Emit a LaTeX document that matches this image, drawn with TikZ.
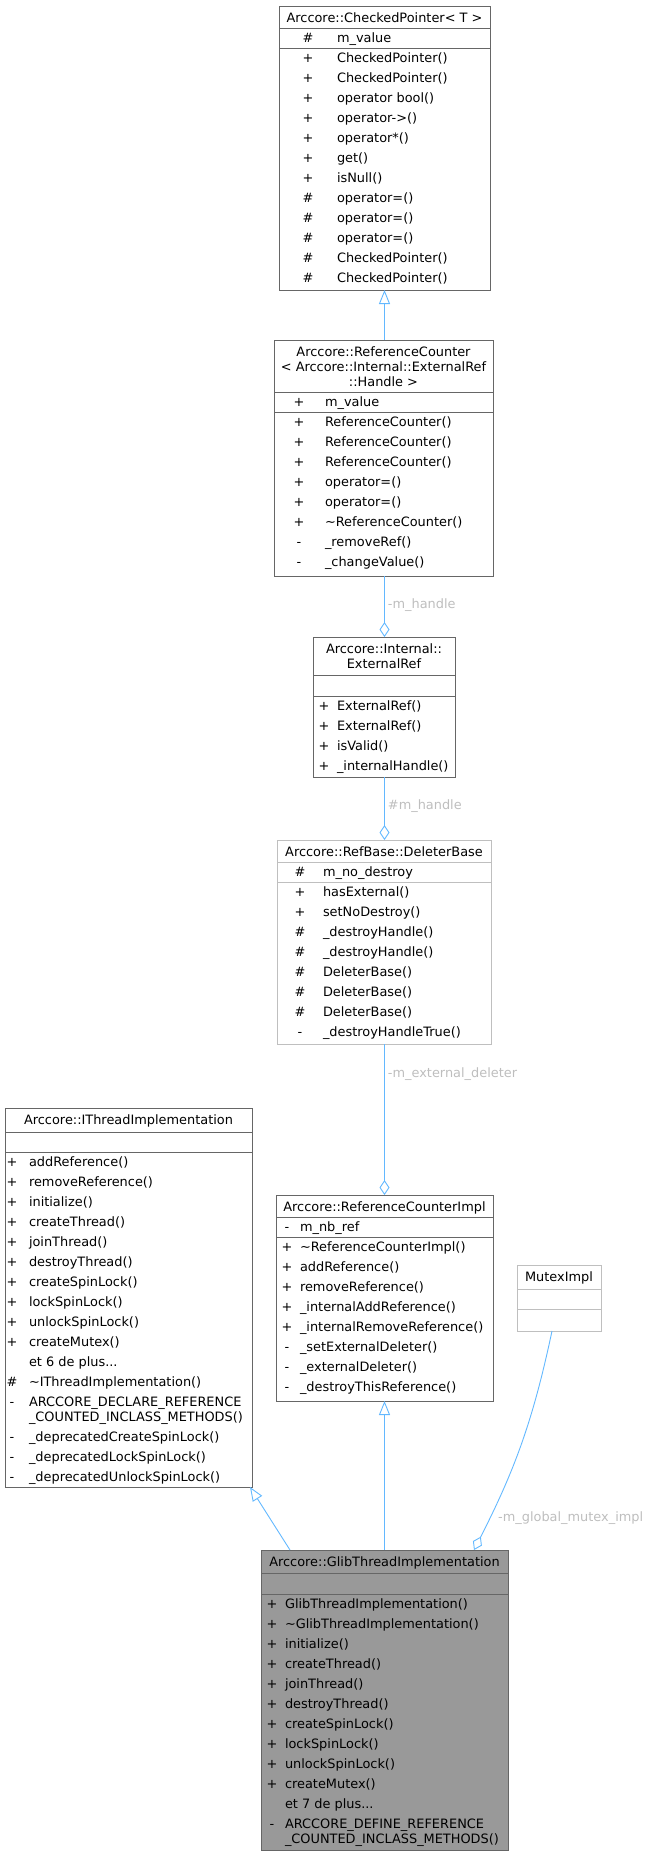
\documentclass[tikz,border=0pt]{standalone}
\usepackage{fontspec}
\setmainfont{DejaVu Sans}
\usepackage{array}
\usepackage{tikz}
\usetikzlibrary{arrows.meta, positioning, calc}

\definecolor{edgeblue}{HTML}{63B8FF}
\definecolor{boxgray}{HTML}{666666}
\definecolor{lightgray}{HTML}{BFBFBF}
\definecolor{labelgray}{HTML}{BEBEBE}
\definecolor{glibgray}{HTML}{999999}

\newcommand{\memberfont}{\fontsize{12.9}{20}\selectfont}
\newcommand{\titlefont}{\fontsize{12.9}{15}\selectfont}
\newcommand{\memberrows}[2]{\begin{tabular}{@{}w{c}{12pt}@{\hspace{#1}}l@{}}#2\end{tabular}}
\newcommand{\titlerows}[1]{\begin{tabular}{@{}c@{}}#1\end{tabular}}

\begin{document}
\begin{tikzpicture}[x=1pt, y=-1pt,
        classbox/.style={draw=boxgray, line width=0.9pt, fill=white, inner sep=0pt, outer sep=0pt, anchor=north west},
        lightbox/.style={classbox, draw=lightgray},
        divider/.style={line width=0.9pt},
        classtitle/.style={anchor=north, inner sep=0pt, outer sep=0pt, font=\titlefont},
        memberlist/.style={anchor=north west, inner sep=0pt, outer sep=0pt, font=\memberfont},
        inherit/.style={-{Triangle[open, length=14pt, width=11pt]}, draw=edgeblue, line width=0.9pt},
        aggr/.style={{Diamond[open, length=15pt, width=10pt]}-, draw=edgeblue, line width=0.9pt},
        rolelabel/.style={anchor=west, inner sep=0pt, xshift=3pt, text=labelgray, font=\titlefont}
    ]
        \useasboundingbox (0,0) rectangle (654,1856);

        % CheckedPointer
        \node[classbox, minimum width=211pt, minimum height=284pt] (cp) at (279,6) {};
        \draw[boxgray, divider] (279,28) -- (490,28) (279,48) -- (490,48);
        \node[classtitle] (cp-title) at (384.5,12) {\titlerows{Arccore::CheckedPointer< T >}};
        \node[memberlist] (cp-attr) at (302,28) {\memberrows{23pt}{\# & m\_value}};
        \node[memberlist] (cp-ops) at (302,48) {\memberrows{23pt}{%
            + & CheckedPointer()\\
            + & CheckedPointer()\\
            + & operator bool()\\
            + & operator->()\\
            + & operator*()\\
            + & get()\\
            + & isNull()\\
            \# & operator=()\\
            \# & operator=()\\
            \# & operator=()\\
            \# & CheckedPointer()\\
            \# & CheckedPointer()}};

        % ReferenceCounter
        \node[classbox, minimum width=219pt, minimum height=236pt] (rc) at (274,340) {};
        \draw[boxgray, divider] (274,392) -- (493,392) (274,412) -- (493,412);
        \node[classtitle] (rc-title) at (383.5,346) {\titlerows{Arccore::ReferenceCounter\\
            < Arccore::Internal::ExternalRef\\ ::Handle >}};
        \node[memberlist] (rc-attr) at (293,392) {\memberrows{20pt}{+ & m\_value}};
        \node[memberlist] (rc-ops) at (293,412) {\memberrows{20pt}{%
            + & ReferenceCounter()\\
            + & ReferenceCounter()\\
            + & ReferenceCounter()\\
            + & operator=()\\
            + & operator=()\\
            + & \textasciitilde ReferenceCounter()\\
            - & \_removeRef()\\
            - & \_changeValue()}};

        % ExternalRef
        \node[classbox, minimum width=142pt, minimum height=140pt] (er) at (313,637) {};
        \draw[boxgray, divider] (313,675) -- (455,675) (313,696) -- (455,696);
        \node[classtitle] (er-title) at (384,643) {\titlerows{Arccore::Internal::\\ ExternalRef}};
        \node[memberlist] (er-ops) at (318,696) {\memberrows{7pt}{%
            + & ExternalRef()\\
            + & ExternalRef()\\
            + & isValid()\\
            + & \_internalHandle()}};

        % DeleterBase
        \node[lightbox, minimum width=214pt, minimum height=204pt] (db) at (277,840) {};
        \draw[lightgray, divider] (277,862) -- (491,862) (277,882) -- (491,882);
        \node[classtitle] (db-title) at (384,846) {\titlerows{Arccore::RefBase::DeleterBase}};
        \node[memberlist] (db-attr) at (294,862) {\memberrows{17pt}{\# & m\_no\_destroy}};
        \node[memberlist] (db-ops) at (294,882) {\memberrows{17pt}{%
            + & hasExternal()\\
            + & setNoDestroy()\\
            \# & \_destroyHandle()\\
            \# & \_destroyHandle()\\
            \# & DeleterBase()\\
            \# & DeleterBase()\\
            \# & DeleterBase()\\
            - & \_destroyHandleTrue()}};

        % ReferenceCounterImpl
        \node[classbox, minimum width=217pt, minimum height=206pt] (rci) at (276,1195) {};
        \draw[boxgray, divider] (276,1217) -- (493,1217) (276,1237) -- (493,1237);
        \node[classtitle] (rci-title) at (384.5,1201) {\titlerows{Arccore::ReferenceCounterImpl}};
        \node[memberlist] (rci-attr) at (281,1217) {\memberrows{7pt}{- & m\_nb\_ref}};
        \node[memberlist] (rci-ops) at (281,1237) {\memberrows{7pt}{%
            + & \textasciitilde ReferenceCounterImpl()\\
            + & addReference()\\
            + & removeReference()\\
            + & \_internalAddReference()\\
            + & \_internalRemoveReference()\\
            - & \_setExternalDeleter()\\
            - & \_externalDeleter()\\
            - & \_destroyThisReference()}};

        % IThreadImplementation
        \node[classbox, minimum width=247pt, minimum height=379pt] (ith) at (5,1108) {};
        \draw[boxgray, divider] (5,1132) -- (252,1132) (5,1152) -- (252,1152);
        \node[classtitle] (ith-title) at (128.5,1114) {\titlerows{Arccore::IThreadImplementation}};
        \node[memberlist] (ith-ops) at (6,1152) {\memberrows{11pt}{%
            + & addReference()\\
            + & removeReference()\\
            + & initialize()\\
            + & createThread()\\
            + & joinThread()\\
            + & destroyThread()\\
            + & createSpinLock()\\
            + & lockSpinLock()\\
            + & unlockSpinLock()\\
            + & createMutex()\\
              & et 6 de plus...\\
            \# & \textasciitilde IThreadImplementation()\\
            - & ARCCORE\_DECLARE\_REFERENCE\\[-5pt]
              & \_COUNTED\_INCLASS\_METHODS()\\
            - & \_deprecatedCreateSpinLock()\\
            - & \_deprecatedLockSpinLock()\\
            - & \_deprecatedUnlockSpinLock()}};

        % MutexImpl
        \node[lightbox, minimum width=84pt, minimum height=66pt] (mutex) at (517,1265) {};
        \draw[lightgray, divider] (517,1289) -- (601,1289) (517,1309) -- (601,1309);
        \node[classtitle] (mutex-title) at (559,1271) {\titlerows{MutexImpl}};

        % GlibThreadImplementation
        \node[classbox, fill=glibgray, minimum width=247pt, minimum height=300pt] (glib) at (261,1550) {};
        \draw[boxgray, divider] (261,1573) -- (508,1573) (261,1594) -- (508,1594);
        \node[classtitle] (glib-title) at (384.5,1556) {\titlerows{Arccore::GlibThreadImplementation}};
        \node[memberlist] (glib-ops) at (266,1594) {\memberrows{7pt}{%
            + & GlibThreadImplementation()\\
            + & \textasciitilde GlibThreadImplementation()\\
            + & initialize()\\
            + & createThread()\\
            + & joinThread()\\
            + & destroyThread()\\
            + & createSpinLock()\\
            + & lockSpinLock()\\
            + & unlockSpinLock()\\
            + & createMutex()\\
              & et 7 de plus...\\
            - & ARCCORE\_DEFINE\_REFERENCE\\[-5pt]
              & \_COUNTED\_INCLASS\_METHODS()}};

        % Inheritance
        \draw[inherit] (cp.south |- rc.north) -- (cp.south);
        \draw[inherit] (glib.north) -- (rci.south);
        \draw[inherit] ([xshift=29pt]glib.north west) -- ([xshift=-2pt]ith.south east);

        % Members (aggregation)
        \draw[aggr] (rci.north |- er.north) -- (rci.north |- rc.south) node[rolelabel, pos=0.52] (lbl-rc) {-m\_handle};
        \draw[aggr] (rci.north |- db.north) -- (rci.north |- er.south) node[rolelabel, pos=0.54] (lbl-er) {\#m\_handle};
        \draw[aggr] (rci.north) -- (rci.north |- db.south) node[rolelabel, pos=0.80] (lbl-db) {-m\_external\_deleter};
        \draw[aggr] ([xshift=-34pt]glib.north east) to[out=63, in=-102] ([xshift=-7pt]mutex.south);
        \node[rolelabel] (lbl-mutex) at (495,1518) {-m\_global\_mutex\_impl};
    \end{tikzpicture}
\end{document}
